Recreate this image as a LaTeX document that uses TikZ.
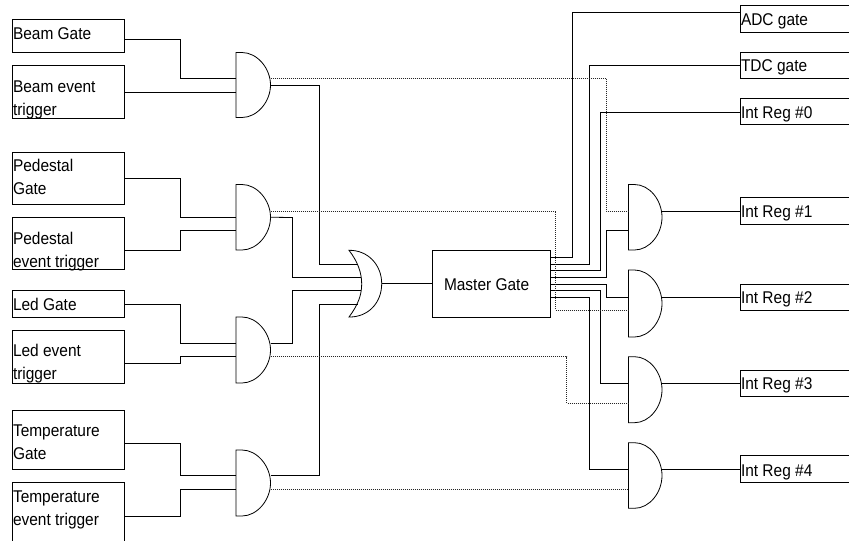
\documentclass[tikz,border=0pt]{standalone}
\usepackage{fontspec}
\setmainfont[FakeStretch=0.91]{Liberation Sans}
\usetikzlibrary{fit}
\tikzset{
  x=1pt,y=-1pt,
  box/.style={draw=black,line width=0.8pt,inner sep=0pt,outer sep=0pt,fill=none},
  gatehold/.style={inner sep=0pt,outer sep=0pt},
  gateline/.style={draw=black,line width=0.8pt},
  wire/.style={draw=black,line width=0.8pt,line join=miter},
  dotwire/.style={draw=black!85,line width=0.8pt,dash pattern=on 1pt off 1pt},
  lab/.style={inner sep=0pt,outer sep=0pt,anchor=base west,align=left,text=black,
    font=\fontsize{17}{22.8}\selectfont}
}
\newcommand{\bxx}[5]{\node[box,fit={(#2,#3)(#4,#5)}] (#1) {};}
% AND gate: name, left x, right x, top y, bottom y
\newcommand{\andg}[5]{%
  \node[gatehold,fit={(#2,#4)(#3,#5)}] (#1) {};
  \draw[gateline] (#1.north west) -- +(6,0)
    .. controls +(15,0) and (#3,{#4+0.24*(#5-#4)}) .. (#1.east)
    .. controls (#3,{#4+0.76*(#5-#4)}) and ({#2+21},#5) .. ({#2+6},#5)
    -- (#1.south west) -- cycle;
}
\begin{document}
\begin{tikzpicture}
\useasboundingbox (0,0) rectangle (849,541);
\clip (0,0) rectangle (849,541);
% input boxes
\bxx{b1}{12.5}{19}{124.5}{52.5}
\bxx{b2}{12.5}{65}{124.5}{118}
\bxx{b3}{12.5}{152}{124.5}{204}
\bxx{b4}{12.5}{217.5}{124.5}{269.5}
\bxx{b5}{12.5}{290}{124.5}{317}
\bxx{b6}{12.5}{330.5}{124.5}{383}
\bxx{b7}{12.5}{410}{124.5}{469}
\bxx{b8}{12.5}{482.5}{124.5}{560}
\node[lab] (t1) at (13,39) {Beam Gate};
\node[lab] (t2) at (13,115) {Beam event\\trigger};
\node[lab] (t3) at (13,194) {Pedestal\\Gate};
\node[lab] (t4) at (13,267) {Pedestal\\event trigger};
\node[lab] (t5) at (13,310.5) {Led Gate};
\node[lab] (t6) at (13,379.5) {Led event\\trigger};
\node[lab] (t7) at (13,459) {Temperature\\Gate};
\node[lab] (t8) at (13,525) {Temperature\\event trigger};
% left AND gates
\andg{g1}{236}{270.5}{52.5}{117.5}
\andg{g2}{236}{270.5}{184.5}{250}
\andg{g3}{236}{270.5}{317}{383}
\andg{g4}{236}{270.5}{450}{516}
% OR gate
\node[gatehold,fit={(349,250.3)(381.7,317)}] (or) {};
\draw[gateline] (or.north west) .. controls (368,250) and (381.7,265) .. (or.east)
  .. controls (381.7,303) and (368,317.3) .. (or.south west)
  .. controls (358,305) and (361.7,295) .. (361.7,284)
  .. controls (361.7,273) and (358,262) .. (or.north west) -- cycle;
% master
\bxx{m}{432.5}{250.5}{550}{317}
\node[lab] (tm) at (444,290.7) {Master Gate};
% right AND gates
\andg{h1}{628.5}{662}{184.5}{250}
\andg{h2}{628.5}{662}{270}{337}
\andg{h3}{628.5}{662}{356.7}{422.7}
\andg{h4}{628.5}{662}{442.7}{508.3}
% output boxes
\bxx{r1}{740.5}{5.5}{870}{32}
\bxx{r2}{740.5}{52.3}{870}{78.3}
\bxx{r3}{740.5}{98.7}{870}{124.3}
\bxx{r4}{740.5}{197.3}{870}{224}
\bxx{r5}{740.5}{284}{870}{310}
\bxx{r6}{740.5}{370}{870}{396}
\bxx{r7}{740.5}{455.7}{870}{482}
\node[lab] (u1) at (741,25.5) {ADC gate};
\node[lab] (u2) at (741,71.7) {TDC gate};
\node[lab] (u3) at (741,118) {Int Reg \#0};
\node[lab] (u4) at (741,217) {Int Reg \#1};
\node[lab] (u5) at (741,303.3) {Int Reg \#2};
\node[lab] (u6) at (741,389.3) {Int Reg \#3};
\node[lab] (u7) at (741,476) {Int Reg \#4};
% inputs to left gates
\draw[wire] (b1.east |- 0,39) -- (180.5,39) -- (180.5,78.5) -- (g1.west |- 0,78.5);
\draw[wire] (b2.east |- 0,92) -- (g1.west |- 0,92);
\draw[wire] (b3.east |- 0,178) -- (180.5,178) -- (180.5,217.5) -- (g2.west |- 0,217.5);
\draw[wire] (b4.east |- 0,250) -- (180.5,250) -- (180.5,230.5) -- (g2.west |- 0,230.5);
\draw[wire] (b5.east |- 0,304) -- (180.5,304) -- (180.5,343) -- (g3.west |- 0,343);
\draw[wire] (b6.east |- 0,363) -- (180.5,363) -- (180.5,356.5) -- (g3.west |- 0,356.5);
\draw[wire] (b7.east |- 0,443) -- (180.5,443) -- (180.5,475.5) -- (g4.west |- 0,475.5);
\draw[wire] (b8.east |- 0,516) -- (180.5,516) -- (180.5,489.5) -- (g4.west |- 0,489.5);
% left gates to OR
\draw[wire] (g1.east) -- (319.5,85) -- (319.5,264) -- (358,264);
\draw[wire] (g2.east) -- (292.5,217.5) -- (292.5,277.5) -- (361,277.5);
\draw[wire] (g3.east |- 0,343) -- (292.5,343) -- (292.5,290.5) -- (361,290.5);
\draw[wire] (g4.east |- 0,475.5) -- (319.5,475.5) -- (319.5,304) -- (358,304);
\draw[wire] (or.east) -- (m.west |- or.east);
% master outputs
\draw[wire] (m.east |- 0,257.5) -- (572,257.5) -- (572,12.5) -- (r1.west |- 0,12.5);
\draw[wire] (m.east |- 0,264.3) -- (589,264.3) -- (589,65) -- (r2.west |- 0,65);
\draw[wire] (m.east |- 0,270.7) -- (600.7,270.7) -- (600.7,112) -- (r3.west |- 0,112);
\draw[wire] (m.east |- 0,277.3) -- (606,277.3) -- (606,230.5) -- (h1.west |- 0,230.5);
\draw[wire] (m.east |- 0,284) -- (606,284) -- (606,297.5) -- (h2.west |- 0,297.5);
\draw[wire] (m.east |- 0,290.7) -- (600.7,290.7) -- (600.7,383) -- (h3.west |- 0,383);
\draw[wire] (m.east |- 0,297.3) -- (589,297.3) -- (589,469.5) -- (h4.west |- 0,469.5);
% right gate outputs
\draw[wire] (h1.east |- 0,211) -- (r4.west |- 0,211);
\draw[wire] (h2.east |- 0,297.5) -- (r5.west |- 0,297.5);
\draw[wire] (h3.east |- 0,383) -- (r6.west |- 0,383);
\draw[wire] (h4.east |- 0,469.5) -- (r7.west |- 0,469.5);
% dotted enables
\draw[dotwire] (g1.east |- 0,78) -- (606,78) -- (606,211) -- (h1.west |- 0,211);
\draw[dotwire] (g2.east |- 0,211) -- (555.3,211) -- (555.3,310) -- (h2.west |- 0,310);
\draw[dotwire] (g3.east |- 0,356.5) -- (566.7,356.5) -- (566.7,403.5) -- (h3.west |- 0,403.5);
\draw[dotwire] (g4.east |- 0,489) -- (h4.west |- 0,489);
\end{tikzpicture}
\end{document}
